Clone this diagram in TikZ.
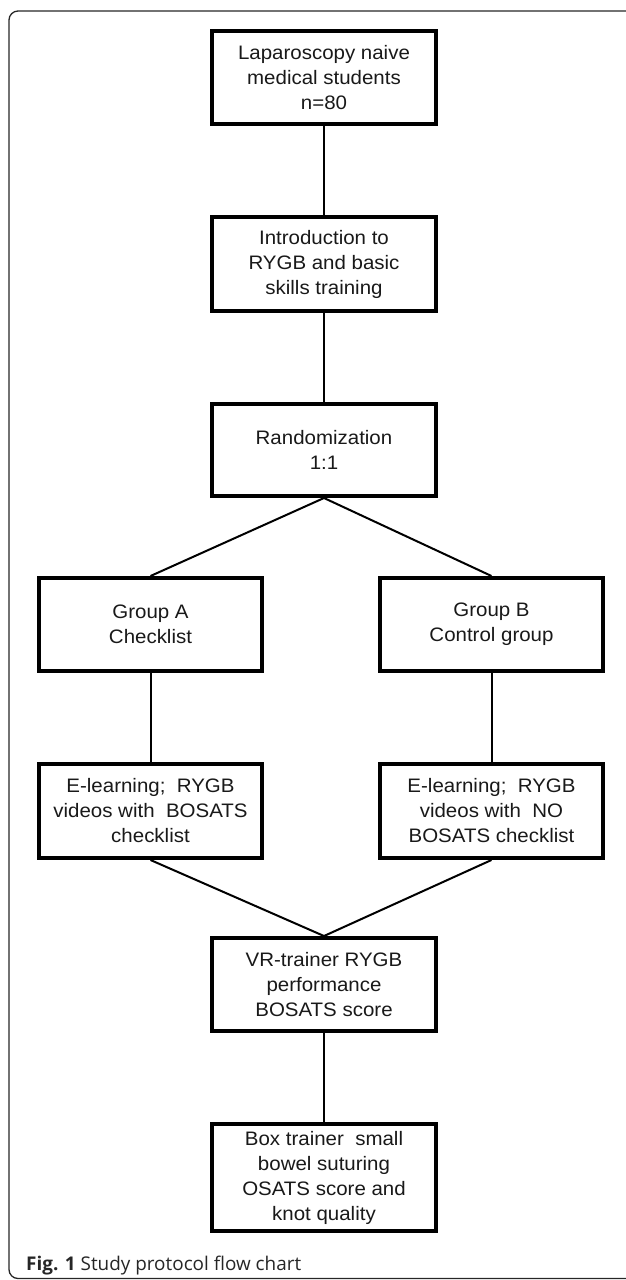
\documentclass[tikz,border=0pt]{standalone}
\usepackage{fontspec}
\setmainfont{Liberation Sans}
\newfontfamily\boxfont[FakeStretch=1.05]{Liberation Sans}
\newfontfamily\capfont{Open Sans}
\begin{document}
\begin{tikzpicture}[x=1pt,y=-1pt,
  box/.style={draw=black, line width=4pt, fill=white, align=center, inner sep=0pt,
    text=black!90, font=\boxfont\fontsize{19.5}{25}\selectfont},
  mainbox/.style={box, minimum width=224pt},
  grpbox/.style={box, minimum width=223pt},
  link/.style={draw=black, line width=2pt}]
\useasboundingbox (0,0) rectangle (625,1280);
\draw[line width=1.3pt, rounded corners=9pt, draw=black!85] (9,11) rectangle (680,1278.5);

\node[mainbox, minimum height=93pt] (n1) at (324,77.5) {Laparoscopy naive\\medical students\\n=80};
\node[mainbox, minimum height=94pt] (n2) at (324,264) {Introduction to\\RYGB and basic\\skills training};
\node[mainbox, minimum height=92pt] (n3) at (324,450) {Randomization\\1:1};
\node[grpbox, minimum height=93pt] (ga) at (150.5,624.5) {Group A\\Checklist};
\node[grpbox, minimum height=93pt] (gb) at (491.5,624.5) {Group B\\Control group};
\node[grpbox, minimum height=94pt] (ea) at (150.5,811) {E-learning;\ \ RYGB\\videos with\ \ BOSATS\\checklist};
\node[grpbox, minimum height=94pt] (eb) at (491.5,811) {E-learning;\ \ RYGB\\videos with\ \ NO\\BOSATS checklist};
\node[mainbox, minimum height=93pt] (vr) at (324,984.5) {VR-trainer RYGB\\performance\\BOSATS score};
\node[mainbox, minimum height=107pt] (bt) at (324,1177.5) {Box trainer\ \ small\\bowel suturing\\OSATS score and\\knot quality};

\draw[link] (n1) -- (n2);
\draw[link] (n2) -- (n3);
\draw[link] (n3.south) -- (ga.north);
\draw[link] (n3.south) -- (gb.north);
\draw[link] (ga) -- (ea);
\draw[link] (gb) -- (eb);
\draw[link] (ea.south) -- (vr.north);
\draw[link] (eb.south) -- (vr.north);
\draw[link] (vr) -- (bt);

\node[anchor=base west, inner sep=0pt, text=black!85, font=\capfont\fontsize{18.9}{22}\selectfont] (cap) at (26,1270) {\textbf{Fig. 1} Study protocol flow chart};
\end{tikzpicture}
\end{document}
